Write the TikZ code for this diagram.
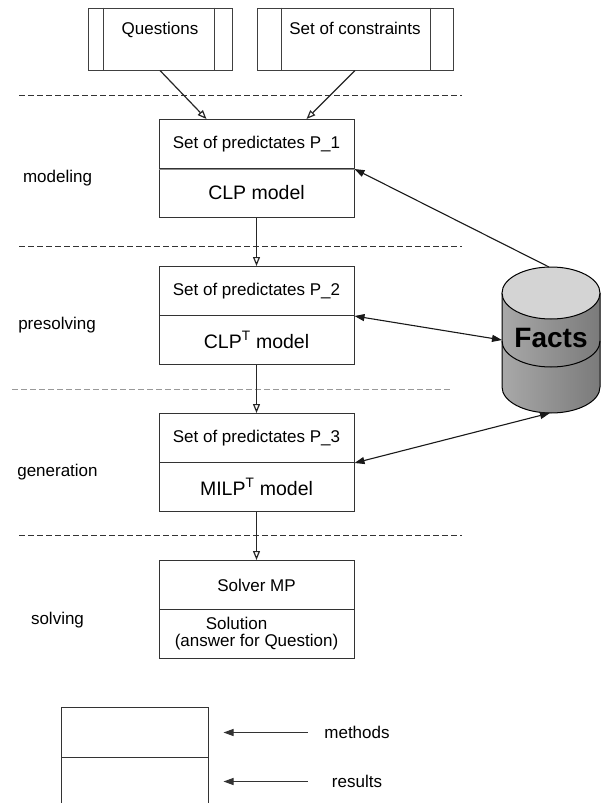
\documentclass[tikz,border=0pt]{standalone}
\usepackage{fontspec}
\setmainfont{Liberation Sans}
\usetikzlibrary{arrows.meta,calc}
\begin{document}
\begin{tikzpicture}[x=1pt,y=-1pt,
  every node/.style={font=\fontsize{17}{19}\selectfont, inner sep=0pt},
  part/.style={draw=black!80, line width=1pt, minimum width=195pt, minimum height=49pt, anchor=north},
  srcbox/.style={draw=black!75, line width=1pt, minimum height=62pt},
  sep/.style={dash pattern=on 6pt off 3pt, line width=1pt, draw=black!80},
  sepgray/.style={dash pattern=on 6pt off 3pt, line width=1pt, draw=black!40},
  openarrow/.style={-{Triangle[open,length=9pt,width=7pt]}, line width=1.2pt, draw=black!85},
  fillarrow/.style={-{Triangle[length=10pt,width=7pt]}, line width=1.1pt, draw=black!90},
  twoarrow/.style={{Triangle[length=10pt,width=7pt]}-{Triangle[length=10pt,width=7pt]}, line width=1.1pt, draw=black!90},
  legarrow/.style={-{Triangle[length=10pt,width=7pt]}, line width=1pt, draw=black!80}
]
\useasboundingbox (0,0) rectangle (602,803);

% source boxes
\node[srcbox, minimum width=144pt] (q) at (160,39) {};
\node (qt) at (160,30) {Questions};
\draw[line width=1pt, draw=black!75] ([xshift=16pt]q.north west) -- ([xshift=16pt]q.south west);
\draw[line width=1pt, draw=black!75] ([xshift=-18pt]q.north east) -- ([xshift=-18pt]q.south east);

\node[srcbox, minimum width=196pt] (c) at (355,39) {};
\node (ct) at (355,28) {Set of constraints};
\draw[line width=1pt, draw=black!75] ([xshift=25pt]c.north west) -- ([xshift=25pt]c.south west);
\draw[line width=1pt, draw=black!75] ([xshift=-23pt]c.north east) -- ([xshift=-23pt]c.south east);

% separators
\draw[sep] (19,95) -- (462,95);
\draw[sep] (19,246) -- (462,246);
\draw[sepgray] (12,389) -- (450,389);
\draw[sep] (19,535) -- (462,535);

% stage labels
\node (l1) at (57.5,178) {modeling};
\node (l2) at (57,325) {presolving};
\node (l3) at (57.5,472) {generation};
\node (l4) at (57.5,620) {solving};

% boxes
\node[part] (p1b) at (256.5,168) {\fontsize{19.5}{22}\selectfont CLP model};
\node[part] (p1a) at (256.5,119) {Set of predictates P\_1};
\draw[line width=1pt, draw=black!45] (p1a.south west) -- (p1a.south east);

\node[part] (p2a) at (256.5,266) {Set of predictates P\_2};
\node[part] (p2b) at (256.5,315) {\fontsize{19.5}{22}\selectfont CLP\textsuperscript{T} model};

\node[part] (p3a) at (256.5,413) {Set of predictates P\_3};
\node[part] (p3b) at (256.5,462) {\fontsize{19.5}{22}\selectfont MILP\textsuperscript{T} model};

\node[part] (p4a) at (256.5,560) {Solver MP};
\node[part, align=center] (p4b) at (256.5,609) {Solution\hspace*{40pt}\\[-2pt](answer for Question)};

% flow arrows
\draw[openarrow] (q.south) -- ([xshift=-50pt]p1a.north);
\draw[openarrow] (c.south) -- ([xshift=50pt]p1a.north);
\draw[openarrow] (p1b.south) -- (p2a.north);
\draw[openarrow] (p2b.south) -- (p3a.north);
\draw[openarrow] (p3b.south) -- (p4a.north);

% Facts cylinder
\shade[left color=black!34, middle color=black!22, right color=black!52]
  (502,293) -- (502,387) arc[start angle=180, end angle=360, x radius=49pt, y radius=26pt]
  -- (600,293) arc[start angle=0, end angle=180, x radius=49pt, y radius=26pt] -- cycle;
\draw[line width=1pt] (502,293) -- (502,387) arc[start angle=180, end angle=360, x radius=49pt, y radius=26pt] -- (600,293);
\draw[line width=1pt, fill=black!17] (551,293) ellipse [x radius=49pt, y radius=26pt];
\draw[line width=1pt] (502,341) arc[start angle=180, end angle=360, x radius=49pt, y radius=26pt];
\node[font=\fontsize{28}{30}\selectfont\bfseries] (facts) at (551,338) {Facts};
\coordinate (dbtop) at (549,267);
\coordinate (dbleft) at (502,340);
\coordinate (dbbot) at (550,413);

\draw[fillarrow] (dbtop) -- (p1a.south east);
\draw[twoarrow] (p2a.south east) -- (dbleft);
\draw[twoarrow] (p3a.south east) -- (dbbot);

% legend
\node[part, minimum width=147pt, minimum height=50pt] (leg1) at (134.5,707) {};
\node[part, minimum width=147pt, minimum height=50pt] (leg2) at (134.5,757) {};
\node (meth) at (357,732) {methods};
\node (res) at (357,781) {results};
\draw[legarrow] ($(leg1.east)+(99,0)$) -- ($(leg1.east)+(15,0)$);
\draw[legarrow] ($(leg2.east)+(99,-1)$) -- ($(leg2.east)+(15,-1)$);
\end{tikzpicture}
\end{document}
